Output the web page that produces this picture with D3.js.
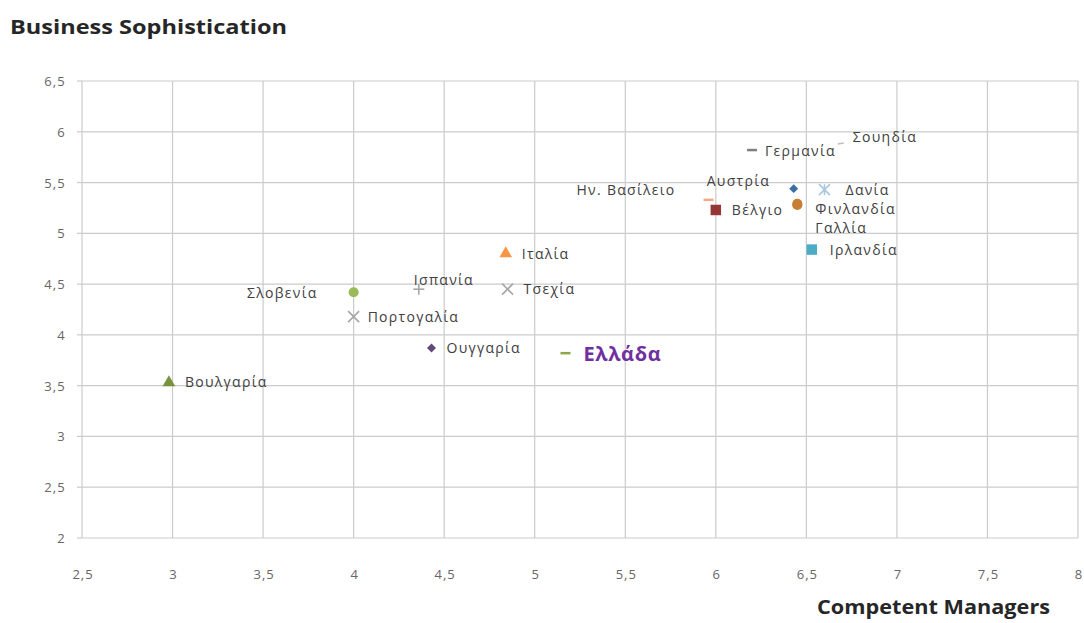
<!DOCTYPE html>
<html>
<head>
<meta charset="utf-8">
<script src="https://cdn.jsdelivr.net/npm/d3@7"></script>
<style>
  html, body { margin: 0; padding: 0; background: #fff; }
  svg { display: block; }
  text { font-family: "Open Sans", "Noto Sans", sans-serif; }
</style>
</head>
<body>
<svg id="chart" width="1084" height="623"></svg>
<script>
// Countries, with Competent Managers (x) and Business Sophistication (y) scores
const countries = ["Βουλγαρία","Σλοβενία","Πορτογαλία","Ισπανία","Τσεχία","Ιταλία","Ουγγαρία","Ελλάδα",
  "Βέλγιο","Ην. Βασίλειο","Γαλλία","Φινλανδία","Αυστρία","Δανία","Ιρλανδία","Γερμανία","Σουηδία"];
const managers =       [2.98, 4.00, 4.00, 4.36, 4.85, 4.84, 4.43, 5.17, 6.00, 5.96, 6.45, 6.45, 6.43, 6.60, 6.53, 6.20, 6.69];
const sophistication = [3.53, 4.42, 4.18, 4.45, 4.45, 4.80, 3.87, 3.82, 5.23, 5.33, 5.28, 5.29, 5.44, 5.43, 4.84, 5.82, 5.87];
const markers = ["triangle","circle","cross","plus","cross","triangle","diamond","dash",
  "square","dash","circle","circle","diamond","asterisk","square","dash","tick"];
const colors = ["#77933C","#9BBB59","#A6A6A6","#A6A6A6","#A6A6A6","#F79646","#604A7B","#8EA64A",
  "#953735","#F2A98A","#C87D34","#C87D34","#3C6EA5","#A9C8E0","#4BACC6","#7F7F7F","#BFBFBF"];

const xTicks = [2.5, 3, 3.5, 4, 4.5, 5, 5.5, 6, 6.5, 7, 7.5, 8];
const yTicks = [2, 2.5, 3, 3.5, 4, 4.5, 5, 5.5, 6, 6.5];

// Label placement relative to each marker: [dx, dy, anchor]
const labelPlace = {
  "Βουλγαρία": [16, 4, "start"], "Σλοβενία": [-36, 6, "end"], "Πορτογαλία": [14, 5, "start"],
  "Ισπανία": [-5, -4, "start"], "Τσεχία": [16, 5, "start"], "Ιταλία": [16, 5, "start"],
  "Ουγγαρία": [15, 5, "start"], "Ελλάδα": [18, 8, "start"], "Βέλγιο": [16, 5, "start"],
  "Ην. Βασίλειο": [-33, -5, "end"], "Γαλλία": [18, 28, "start"], "Φινλανδία": [18, 10, "start"],
  "Αυστρία": [-87, -3, "start"], "Δανία": [21, 5, "start"], "Ιρλανδία": [18, 5, "start"],
  "Γερμανία": [13, 6, "start"], "Σουηδία": [12, -3, "start"]
};

const svg = d3.select("#chart");
const x = d3.scaleLinear().domain([2.5, 8]).range([82, 1078]);
const y = d3.scaleLinear().domain([2, 6.5]).range([538, 81]);
const fmt = v => String(v).replace(".", ",");

// Grid
const grid = svg.append("g");
grid.selectAll(".vg").data(xTicks).join("line")
  .attr("x1", d => x(d)).attr("x2", d => x(d)).attr("y1", y(2)).attr("y2", y(6.5))
  .attr("stroke", "#CBCBCB").attr("stroke-width", 1.2);
grid.selectAll(".hg").data(yTicks).join("line")
  .attr("y1", d => y(d)).attr("y2", d => y(d)).attr("x1", x(2.5)).attr("x2", x(8))
  .attr("stroke", "#CBCBCB").attr("stroke-width", 1.2);
// small outward tick marks on left axis
grid.selectAll(".yt").data(yTicks).join("line")
  .attr("y1", d => y(d)).attr("y2", d => y(d)).attr("x1", x(2.5) - 5).attr("x2", x(2.5))
  .attr("stroke", "#CBCBCB").attr("stroke-width", 1.2);

// Axis tick labels
svg.append("g").selectAll("text").data(yTicks).join("text")
  .attr("x", 66).attr("y", d => y(d) + 5)
  .attr("text-anchor", "end").attr("font-size", 13).attr("letter-spacing", 1.2).attr("fill", "#666")
  .text(fmt);
svg.append("g").selectAll("text").data(xTicks).join("text")
  .attr("x", d => x(d) + 1).attr("y", 579)
  .attr("text-anchor", "middle").attr("font-size", 13).attr("letter-spacing", 1).attr("fill", "#666")
  .text(fmt);

// Titles
svg.append("text").attr("x", 10).attr("y", 34).attr("font-size", 19).attr("font-weight", "bold")
  .attr("textLength", 277).attr("lengthAdjust", "spacingAndGlyphs")
  .attr("fill", "#262626").text("Business Sophistication");
svg.append("text").attr("x", 817).attr("y", 614).attr("font-size", 19)
  .attr("textLength", 233).attr("lengthAdjust", "spacingAndGlyphs")
  .attr("font-weight", "bold").attr("fill", "#262626").text("Competent Managers");

// Markers
const pts = countries.map((c, i) => ({ c, x: managers[i], y: sophistication[i], m: markers[i], col: colors[i] }));
const symbolPath = {
  triangle: d3.symbol(d3.symbolTriangle, 70)(),
  circle: d3.symbol(d3.symbolCircle, 80)(),
  square: d3.symbol(d3.symbolSquare, 110)()
};
const g = svg.append("g");
pts.forEach(p => {
  const px = x(p.x), py = y(p.y);
  const node = g.append("g").attr("transform", `translate(${px},${py})`);
  if (symbolPath[p.m]) {
    node.append("path").attr("d", symbolPath[p.m]).attr("fill", p.col);
  } else if (p.m === "diamond") {
    node.append("path").attr("d", d3.symbol(d3.symbolSquare, 40)()).attr("transform", "rotate(45)")
      .attr("fill", p.col);
  } else if (p.m === "dash") {
    node.append("line").attr("x1", -5).attr("x2", 5).attr("stroke", p.col).attr("stroke-width", 2.5);
  } else if (p.m === "tick") {
    node.append("line").attr("x1", -3).attr("x2", 3).attr("y1", -1).attr("y2", -2)
      .attr("stroke", p.col).attr("stroke-width", 1.5);
  } else if (p.m === "cross" || p.m === "asterisk" || p.m === "plus") {
    const s = 5.5;
    const segs = p.m === "plus" ? [[-s,0,s,0],[0,-s,0,s]]
      : p.m === "cross" ? [[-s,-s,s,s],[-s,s,s,-s]]
      : [[-s,-s,s,s],[-s,s,s,-s],[0,-s,0,s]];
    segs.forEach(a => node.append("line").attr("x1", a[0]).attr("y1", a[1]).attr("x2", a[2]).attr("y2", a[3])
      .attr("stroke", p.col).attr("stroke-width", 1.6));
  }
});

// Country labels
pts.forEach(p => {
  const [dx, dy, anchor] = labelPlace[p.c];
  const isGreece = p.c === "Ελλάδα";
  svg.append("text")
    .attr("x", x(p.x) + dx).attr("y", y(p.y) + dy)
    .attr("text-anchor", anchor)
    .attr("font-size", isGreece ? 20 : 14)
    .attr("letter-spacing", isGreece ? 0.6 : 1.3)
    .attr("font-weight", isGreece ? "bold" : "normal")
    .attr("fill", isGreece ? "#7030A0" : "#404040")
    .text(p.c);
});
</script>
</body>
</html>
